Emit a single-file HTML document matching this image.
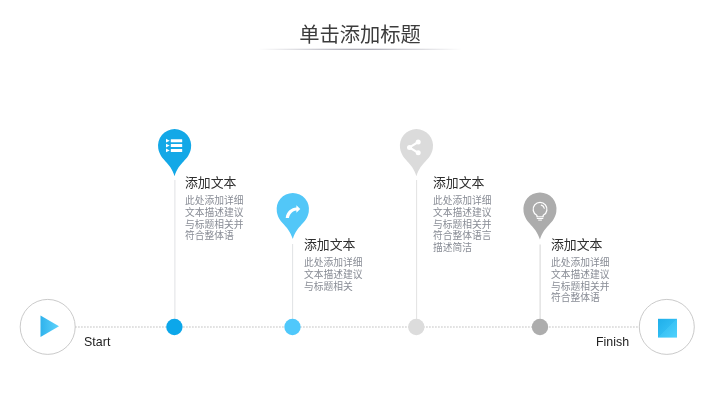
<!DOCTYPE html>
<html lang="zh-CN">
<head>
<meta charset="utf-8">
<title>单击添加标题</title>
<style>
html,body{margin:0;padding:0;background:#fff;}
body{width:720px;height:405px;position:relative;overflow:hidden;font-family:"Liberation Sans","Noto Sans CJK SC",sans-serif;}
svg{position:absolute;left:0;top:0;}
.t{position:absolute;white-space:nowrap;margin:0;will-change:transform;}
.title{left:0;width:720px;text-align:center;top:19.6px;font-size:20.3px;line-height:30px;color:#3c3c3c;}
.h{font-size:12.85px;line-height:16px;color:#2e2e2e;}
.b{font-size:9.75px;line-height:11.75px;color:#888c95;}
.lab{font-size:12.4px;line-height:14px;color:#222;}
</style>
</head>
<body>
<svg width="720" height="405" viewBox="0 0 720 405">
  <defs>
    <linearGradient id="ul" x1="0" x2="1" y1="0" y2="0">
      <stop offset="0" stop-color="#a0a0ac" stop-opacity="0"/>
      <stop offset="0.45" stop-color="#a0a0ac" stop-opacity="0.92"/>
      <stop offset="0.55" stop-color="#a0a0ac" stop-opacity="0.92"/>
      <stop offset="1" stop-color="#a0a0ac" stop-opacity="0"/>
    </linearGradient>
    <linearGradient id="bl" x1="0" x2="1" y1="0" y2="1">
      <stop offset="0" stop-color="#1fafea"/>
      <stop offset="0.5" stop-color="#30bcf2"/>
      <stop offset="0.5" stop-color="#3ac3f5"/>
      <stop offset="1" stop-color="#4fd1fc"/>
    </linearGradient>
    <linearGradient id="tr" x1="0" x2="1" y1="0" y2="0">
      <stop offset="0" stop-color="#2fb2ec"/>
      <stop offset="1" stop-color="#5fd3fc"/>
    </linearGradient>
  </defs>
  <rect x="258" y="48.7" width="204" height="1.2" fill="url(#ul)"/>
  <!-- dotted baseline -->
  <line x1="75.15" y1="327" x2="640" y2="327" stroke="#d2d2d2" stroke-width="1.5" stroke-dasharray="1.5 1.5"/>
  <!-- vertical stems -->
  <line x1="174.9" y1="180" x2="174.9" y2="320" stroke="#dddfe1" stroke-width="0.9"/>
  <line x1="292.6" y1="244" x2="292.6" y2="320" stroke="#dddfe1" stroke-width="0.9"/>
  <line x1="416.6" y1="180" x2="416.6" y2="320" stroke="#dadada" stroke-width="0.8"/>
  <line x1="540.1" y1="244.5" x2="540.1" y2="320" stroke="#cacaca" stroke-width="0.8"/>
  <!-- dots -->
  <circle cx="174.4" cy="327" r="8.2" fill="#0ca7ea"/>
  <circle cx="292.5" cy="327" r="8.2" fill="#4fc8fb"/>
  <circle cx="416.3" cy="327" r="8.2" fill="#dcdcdc"/>
  <circle cx="540" cy="327" r="8.2" fill="#adadad"/>
  <!-- end circles -->
  <circle cx="47.7" cy="326.9" r="27.5" fill="#fff" stroke="#bdbdbd" stroke-width="0.8"/>
  <circle cx="666.8" cy="326.9" r="27.5" fill="#fff" stroke="#bdbdbd" stroke-width="0.8"/>
  <polygon points="40.5,315.5 59,326.2 40.5,337" fill="url(#tr)"/>
  <rect x="658" y="318.8" width="19" height="18.8" fill="url(#bl)"/>
  <!-- pins -->
  <path transform="translate(174.6,145.7)" fill="#13a8e7" d="M-16.35,2.88 A16.6,16.6 0 1 1 16.35,2.88 C14.18,15.19 4.45,15.75 0,30.6 C-4.45,15.75 -14.18,15.19 -16.35,2.88 Z"/>
  <path transform="translate(292.8,209.1) scale(0.976)" fill="#52c7f8" d="M-16.35,2.88 A16.6,16.6 0 1 1 16.35,2.88 C14.18,15.19 4.45,15.75 0,30.6 C-4.45,15.75 -14.18,15.19 -16.35,2.88 Z"/>
  <path transform="translate(416.45,145.7)" fill="#dbdbdb" d="M-16.35,2.88 A16.6,16.6 0 1 1 16.35,2.88 C14.18,15.19 4.45,15.75 0,30.6 C-4.45,15.75 -14.18,15.19 -16.35,2.88 Z"/>
  <path transform="translate(539.95,209)" fill="#acacac" d="M-16.35,2.88 A16.6,16.6 0 1 1 16.35,2.88 C14.18,15.19 4.45,15.75 0,30.6 C-4.45,15.75 -14.18,15.19 -16.35,2.88 Z"/>
  <!-- icon 1: list -->
  <g fill="#fff">
    <rect x="170.8" y="139.20" width="11.4" height="3" rx="0.3"/>
    <polygon points="166,138.80 169.7,140.70 166,142.60"/>
    <rect x="170.8" y="144.05" width="11.4" height="3" rx="0.3"/>
    <polygon points="166,143.65 169.7,145.55 166,147.45"/>
    <rect x="170.8" y="148.95" width="11.4" height="3" rx="0.3"/>
    <polygon points="166,148.55 169.7,150.45 166,152.35"/>
  </g>
  <!-- icon 2: forward arrow -->
  <path fill="#fff" d="M300.3,209 L296.4,205.2 L296.4,207.6 C291.5,207.8 286.6,211.5 285.7,217.9 L288.9,217.9 C289.8,214.2 292.4,210.9 296.4,210.6 L296.4,212.8 Z"/>
  <!-- icon 3: share -->
  <g fill="#fff" stroke="#fff">
    <path d="M418.2,142 L409.5,147.4 L418.2,152.8" fill="none" stroke-width="2.1"/>
    <circle cx="418.2" cy="142" r="2.5" stroke="none"/>
    <circle cx="409.5" cy="147.4" r="2.5" stroke="none"/>
    <circle cx="418.2" cy="152.8" r="2.5" stroke="none"/>
  </g>
  <!-- icon 4: bulb -->
  <g fill="none" stroke="#fff" stroke-linecap="round" stroke-linejoin="round">
    <path d="M537.1,216.7 L536.81,215.29 A6.9,6.9 0 1 1 543.29,215.29 L543,216.7" stroke-width="1.3"/>
    <path d="M537.1,216.8 H543 M537.2,218.5 H542.9 M538.6,220.1 H541.5" stroke-width="1"/>
    <path d="M541.3,205.1 A4.2,4.2 0 0 1 544.3,208.3" stroke-width="1.1"/>
  </g>
</svg>
<div class="t title">单击添加标题</div>
<div class="t h" style="left:185px;top:175px">添加文本</div>
<div class="t b" style="left:185px;top:195px">此处添加详细<br>文本描述建议<br>与标题相关并<br>符合整体语</div>
<div class="t h" style="left:303.5px;top:237px">添加文本</div>
<div class="t b" style="left:303.5px;top:257px">此处添加详细<br>文本描述建议<br>与标题相关</div>
<div class="t h" style="left:432.5px;top:175px">添加文本</div>
<div class="t b" style="left:432.5px;top:195px">此处添加详细<br>文本描述建议<br>与标题相关并<br>符合整体语言<br>描述简洁</div>
<div class="t h" style="left:551px;top:237px">添加文本</div>
<div class="t b" style="left:551px;top:257px">此处添加详细<br>文本描述建议<br>与标题相关并<br>符合整体语</div>
<div class="t lab" style="left:84px;top:335px;letter-spacing:0.05px">Start</div>
<div class="t lab" style="left:596px;top:335px;letter-spacing:0px">Finish</div>
</body>
</html>
